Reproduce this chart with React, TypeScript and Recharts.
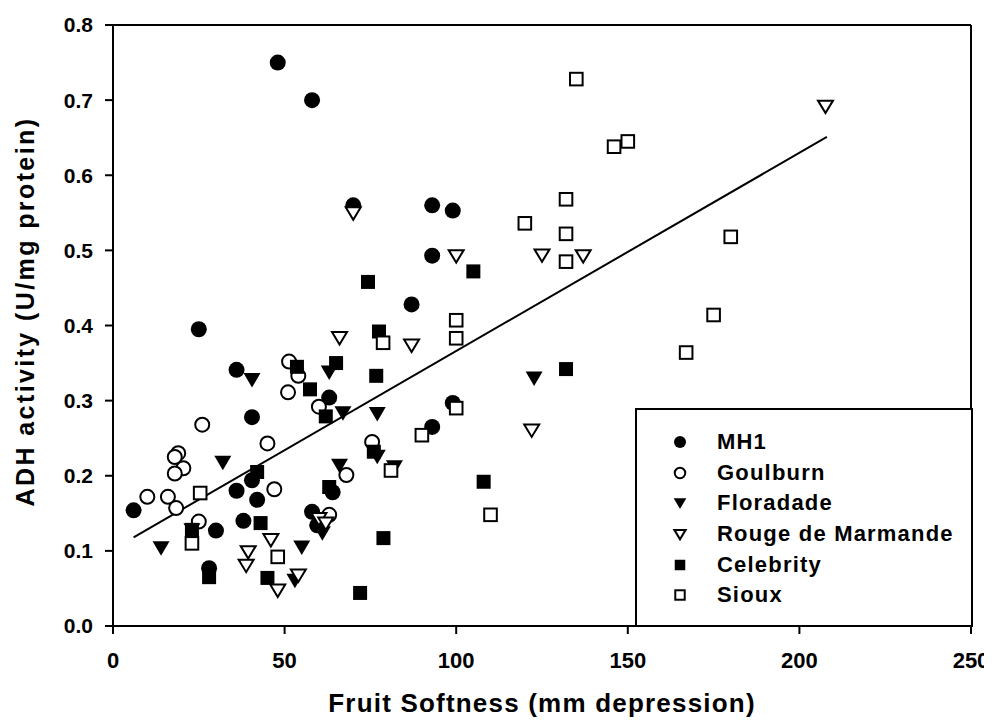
import React from 'react';
import { ScatterChart, Scatter, XAxis, YAxis, ReferenceLine, Legend } from 'recharts';

const FONT = '"Liberation Sans", Arial, Helvetica, sans-serif';

const seriesNames = ['MH1', 'Goulburn', 'Floradade', 'Rouge de Marmande', 'Celebrity', 'Sioux'];
const seriesKinds = ['circleFilled', 'circleOpen', 'triFilled', 'triOpen', 'squareFilled', 'squareOpen'];

const mh1Pts: [number, number][] = [
  [48, 0.75], [58, 0.70], [70, 0.56], [93, 0.56], [99, 0.553], [93, 0.493], [87, 0.428],
  [25, 0.395], [36, 0.341], [40.5, 0.278], [63, 0.304], [6, 0.154], [36, 0.18], [40.5, 0.194],
  [42, 0.168], [38, 0.14], [30, 0.127], [28, 0.077], [58, 0.152], [59.5, 0.134], [64, 0.178],
  [99, 0.297], [93, 0.265],
];
const goulburnPts: [number, number][] = [
  [51.3, 0.352], [54, 0.333], [51, 0.311], [26, 0.268], [60, 0.292], [45, 0.243], [19, 0.23],
  [18, 0.225], [20.5, 0.21], [18, 0.203], [10, 0.172], [16, 0.172], [18.4, 0.157], [25, 0.139],
  [47, 0.182], [75.5, 0.245], [68, 0.201], [63, 0.148],
];
const floradadePts: [number, number][] = [
  [40.5, 0.328], [32, 0.218], [14, 0.104], [23, 0.128], [55, 0.105], [53, 0.061], [63, 0.338],
  [67, 0.284], [77, 0.283], [61, 0.124], [66, 0.214], [77, 0.226], [122.7, 0.33], [82, 0.212],
];
const rougePts: [number, number][] = [
  [100, 0.493], [125, 0.494], [137, 0.493], [70, 0.55], [207.6, 0.692], [87, 0.374], [122, 0.261],
  [66, 0.384], [39.4, 0.099], [38.8, 0.081], [46, 0.115], [48, 0.048], [54, 0.068], [60, 0.143],
  [62, 0.137],
];
const celebrityPts: [number, number][] = [
  [105, 0.472], [74.3, 0.458], [77.5, 0.392], [76.7, 0.333], [65, 0.35], [53.6, 0.345],
  [57.4, 0.315], [62, 0.279], [42, 0.205], [43, 0.137], [28, 0.065], [45, 0.064], [23, 0.128],
  [72, 0.044], [78.8, 0.117], [63, 0.185], [76, 0.232], [132, 0.342], [108, 0.192],
];
const siouxPts: [number, number][] = [
  [135, 0.728], [146, 0.638], [150, 0.645], [132, 0.568], [120, 0.536], [132, 0.522], [132, 0.485],
  [100, 0.407], [100, 0.383], [100, 0.29], [90, 0.254], [81, 0.207], [110, 0.148], [180, 0.518],
  [175, 0.414], [167, 0.364], [25.4, 0.177], [23, 0.11], [48, 0.092], [78.7, 0.377],
];

const fitLinePts: [number, number][] = [[6, 0.118], [208, 0.651]];

const xTicks = [0, 50, 100, 150, 200, 250];
const yTicks = [0, 0.1, 0.2, 0.3, 0.4, 0.5, 0.6, 0.7, 0.8];

const xTitle = 'Fruit Softness (mm depression)';
const yTitle = 'ADH activity (U/mg protein)';

const toObjs = (pts: [number, number][]) => pts.map(([x, y]) => ({ x, y }));
const seriesData = [mh1Pts, goulburnPts, floradadePts, rougePts, celebrityPts, siouxPts].map(toObjs);

function drawMarker(kind: string, cx: number, cy: number, s = 1) {
  const sw = 2;
  switch (kind) {
    case 'circleFilled':
      return <circle cx={cx} cy={cy} r={8 * s} fill="#000" />;
    case 'circleOpen':
      return <circle cx={cx} cy={cy} r={7 * s} fill="#fff" stroke="#000" strokeWidth={sw} />;
    case 'triFilled': {
      const w = 8.5 * s, h1 = 6.5 * s, h2 = 8 * s;
      return <polygon points={`${cx - w},${cy - h1} ${cx + w},${cy - h1} ${cx},${cy + h2}`} fill="#000" />;
    }
    case 'triOpen': {
      const w = 7.5 * s, h1 = 5.5 * s, h2 = 7 * s;
      return (
        <polygon
          points={`${cx - w},${cy - h1} ${cx + w},${cy - h1} ${cx},${cy + h2}`}
          fill="#fff"
          stroke="#000"
          strokeWidth={sw}
          strokeLinejoin="miter"
        />
      );
    }
    case 'squareFilled': {
      const h = 7 * s;
      return <rect x={cx - h} y={cy - h} width={2 * h} height={2 * h} fill="#000" />;
    }
    case 'squareOpen': {
      const h = 6.3 * s;
      return <rect x={cx - h} y={cy - h} width={2 * h} height={2 * h} fill="#fff" stroke="#000" strokeWidth={sw} />;
    }
    default:
      return <g />;
  }
}

const makeShape = (kind: string) => (props: any) => {
  const { cx, cy } = props;
  if (cx == null || cy == null) return <g />;
  return drawMarker(kind, cx, cy);
};

const LegendBox = () => (
  <div
    style={{
      width: '100%',
      height: '100%',
      boxSizing: 'border-box',
      border: '2px solid #000',
      background: '#fff',
      paddingTop: 17,
      fontFamily: FONT,
      fontWeight: 'bold',
      fontSize: 22,
      letterSpacing: 1.2,
      color: '#000',
    }}
  >
    {seriesNames.map((name, i) => (
      <div key={name} style={{ display: 'flex', alignItems: 'center', height: 30.6 }}>
        <svg width={24} height={24} style={{ marginLeft: 31, marginRight: 25, flex: 'none' }}>
          {drawMarker(seriesKinds[i], 12, 12, 0.75)}
        </svg>
        <span style={{ whiteSpace: 'nowrap', lineHeight: '30px' }}>{name}</span>
      </div>
    ))}
  </div>
);

const YTitle = (props: any) => {
  const vb = props.viewBox || { x: 0, y: 17, width: 105, height: 601 };
  const cx = vb.x + 17;
  const cy = vb.y + vb.height / 2 - 14;
  return (
    <text
      x={cx}
      y={cy}
      transform={`rotate(-90, ${cx}, ${cy})`}
      textAnchor="middle"
      dominantBaseline="central"
      fontFamily={FONT}
      fontWeight="bold"
      fontSize={25}
      letterSpacing={2.4}
      fill="#000"
    >
      {yTitle}
    </text>
  );
};

const XTitle = (props: any) => {
  const vb = props.viewBox || { x: 105, y: 618, width: 858, height: 98 };
  const cx = vb.x + vb.width / 2;
  const cy = vb.y + 86;
  return (
    <text
      x={cx}
      y={cy}
      textAnchor="middle"
      fontFamily={FONT}
      fontWeight="bold"
      fontSize={26}
      letterSpacing={1.2}
      fill="#000"
    >
      {xTitle}
    </text>
  );
};

export default function App() {
  const axisLine = { stroke: '#000', strokeWidth: 2 };
  const tickLine = { stroke: '#000', strokeWidth: 2 };
  return (
    <ScatterChart width={984} height={716} margin={{ top: 17, right: 21, left: 0, bottom: 0 }}>
      <XAxis
        type="number"
        dataKey="x"
        domain={[0, 250]}
        ticks={xTicks}
        allowDataOverflow
        height={98}
        axisLine={axisLine}
        tickLine={tickLine}
        tickSize={8}
        tickMargin={18}
        tick={{ fontSize: 22, fontWeight: 'bold', fill: '#000', fontFamily: FONT }}
        label={<XTitle />}
      />
      <YAxis
        type="number"
        dataKey="y"
        domain={[0, 0.8]}
        ticks={yTicks}
        allowDataOverflow
        width={105}
        axisLine={axisLine}
        tickLine={tickLine}
        tickSize={8}
        tickMargin={12}
        tickFormatter={(v: number) => v.toFixed(1)}
        tick={{ fontSize: 21, fontWeight: 'bold', fill: '#000', fontFamily: FONT }}
        label={<YTitle />}
      />
      <ReferenceLine y={0.8} stroke="#000" strokeWidth={2} ifOverflow="extendDomain" />
      <ReferenceLine x={250} stroke="#000" strokeWidth={2} ifOverflow="extendDomain" />
      <Scatter
        name="fit"
        data={toObjs(fitLinePts)}
        line={{ stroke: '#000', strokeWidth: 2 }}
        shape={() => <g />}
        legendType="none"
        isAnimationActive={false}
      />
      {seriesNames.map((name, i) => (
        <Scatter
          key={name}
          name={name}
          data={seriesData[i]}
          shape={makeShape(seriesKinds[i])}
          fill="#000"
          isAnimationActive={false}
        />
      ))}
      <Legend
        layout="vertical"
        align="center"
        verticalAlign="middle"
        content={() => <LegendBox />}
        wrapperStyle={{ left: 627, top: 400, width: 338, height: 219, margin: 0, padding: 0 }}
      />
    </ScatterChart>
  );
}
